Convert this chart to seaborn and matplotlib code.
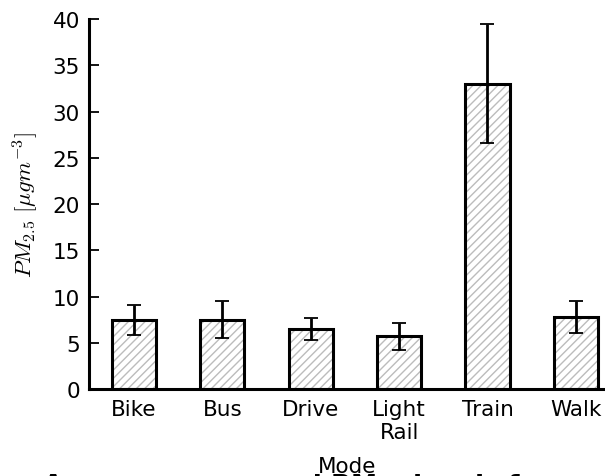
import matplotlib
matplotlib.use("Agg")
import matplotlib.pyplot as plt
import seaborn as sns
import pandas as pd

modes = ["Bike", "Bus", "Drive", "Light\nRail", "Train", "Walk"]
pm25 = [7.5, 7.5, 6.5, 5.7, 33.0, 7.8]
pm25_err = [1.65, 2.0, 1.15, 1.5, 6.45, 1.75]
y_ticks = [0, 5, 10, 15, 20, 25, 30, 35, 40]

df = pd.DataFrame({"Mode": modes, "PM": pm25})

sns.set_style("white")
plt.rcParams["font.family"] = ["DejaVu Sans"]
plt.rcParams["mathtext.fontset"] = "cm"
plt.rcParams["hatch.linewidth"] = 1.0
plt.rcParams["text.color"] = "black"
plt.rcParams["axes.labelcolor"] = "black"

fig = plt.figure(figsize=(6.05, 4.77), dpi=100)
ax = fig.add_axes([0.147, 0.182, 0.853, 0.776])

# hatched fill (grey hatch)
sns.barplot(data=df, x="Mode", y="PM", ax=ax, color="white", width=0.5,
            edgecolor="#bcbcbc", linewidth=0, hatch="////", errorbar=None)
# black outline
sns.barplot(data=df, x="Mode", y="PM", ax=ax, fill=False, width=0.5,
            edgecolor="black", linewidth=2.2, errorbar=None)

ax.errorbar(range(len(modes)), pm25, yerr=pm25_err, fmt="none",
            ecolor="black", elinewidth=2.0, capsize=4.7, capthick=1.3, zorder=5)

ax.set_xlim(-0.51, 5.33)
ax.set_ylim(0, 40)
ax.set_yticks(y_ticks)
ax.set_xlabel("Mode", fontsize=15.5, labelpad=10, color="black")
ax.set_ylabel(r"$PM_{2.5}\ [\mu g m^{-3}]$", fontsize=16.5, labelpad=8, color="black")

for side in ["top", "right"]:
    ax.spines[side].set_visible(False)
for side in ["left", "bottom"]:
    ax.spines[side].set_linewidth(2.2)
    ax.spines[side].set_color("black")

ax.tick_params(axis="both", direction="in", labelsize=15.5, width=1.3,
               color="black", labelcolor="black")
ax.tick_params(axis="y", length=7, left=True, pad=6.5)
ax.tick_params(axis="x", length=6, bottom=True, pad=7)

# caption below the figure, only its top edge shows (clipped as in the reference)
fig.text(0.07, -0.035, "Average measured PM$_{2.5}$ levels for each mode of transport",
         fontsize=19, fontweight="bold", ha="left", va="baseline", color="black")

fig.savefig("out.png", dpi=100)
